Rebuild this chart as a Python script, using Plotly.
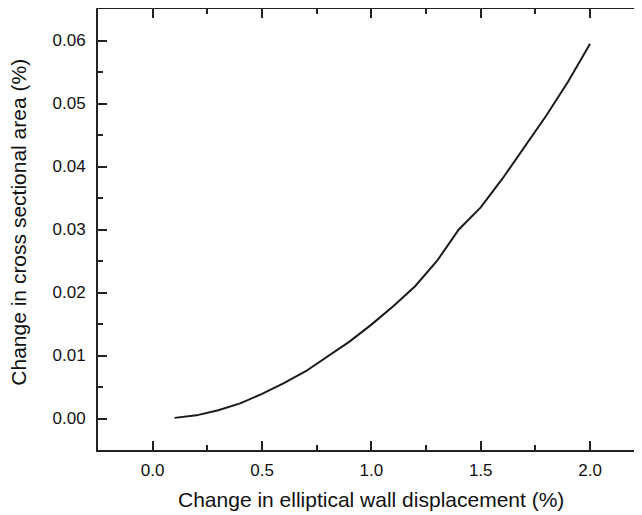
import plotly.graph_objects as go

# Data
displacement = [0.1, 0.2, 0.3, 0.4, 0.5, 0.6, 0.7, 0.8, 0.9, 1.0,
                1.1, 1.2, 1.3, 1.4, 1.5, 1.6, 1.7, 1.8, 1.9, 2.0]
area_change = [0.0001, 0.0005, 0.0013, 0.0024, 0.0039, 0.0056, 0.0075, 0.0098, 0.0122, 0.0149,
               0.0178, 0.0210, 0.0250, 0.0300, 0.0335, 0.0381, 0.0430, 0.0481, 0.0535, 0.0595]

x_title = "Change in elliptical wall displacement (%)"
y_title = "Change in cross sectional area (%)"

FONT = "Arial, 'Liberation Sans', sans-serif"
AX = "#222222"

# The page body has an 8px default margin, so the figure is sized/margined to
# compensate (plot area ends up at page x 98..642, y 9..450).
fig = go.Figure()
fig.add_trace(go.Scatter(x=displacement, y=area_change, mode="lines",
                         line=dict(color="#1a1a1a", width=2), showlegend=False,
                         hoverinfo="x+y"))
# helper trace on the right-hand axis (invisible) so mirrored ticks render
fig.add_trace(go.Scatter(x=displacement, y=area_change, mode="lines", yaxis="y2",
                         line=dict(color="rgba(0,0,0,0)", width=0), showlegend=False,
                         hoverinfo="skip"))

fig.update_layout(
    template="none",
    width=634, height=507,
    margin=dict(l=90, r=0, t=1, b=65, pad=0),
    paper_bgcolor="white", plot_bgcolor="white",
    font=dict(family=FONT, size=17, color="#111111"),
    xaxis=dict(
        automargin=False,
        range=[-0.25, 2.2375], tick0=0, dtick=0.5, tickformat=".1f",
        ticks="inside", ticklen=9, tickwidth=1.5, tickcolor=AX,
        showline=True, linewidth=2, linecolor=AX, mirror="ticks",
        showgrid=False, zeroline=False, ticklabelstandoff=4,
        minor=dict(ticks="inside", ticklen=5, tickwidth=1.5, tickcolor=AX, dtick=0.25, tick0=0, showgrid=False),
        tickfont=dict(size=17),
    ),
    yaxis=dict(
        automargin=False,
        range=[-0.005, 0.065], tick0=0, dtick=0.01, tickformat=".2f",
        ticks="inside", ticklen=9, tickwidth=1.5, tickcolor=AX,
        showline=True, linewidth=2, linecolor=AX, mirror=False,
        showgrid=False, zeroline=False, ticklabelstandoff=7,
        minor=dict(ticks="inside", ticklen=5, tickwidth=1.5, tickcolor=AX, dtick=0.005, tick0=0, showgrid=False),
        tickfont=dict(size=17),
    ),
    yaxis2=dict(
        automargin=False,
        overlaying="y", side="right", matches="y",
        range=[-0.005, 0.065], tick0=0, dtick=0.01,
        ticks="inside", ticklen=6, tickwidth=1.5, tickcolor=AX,
        showline=False, showticklabels=False, showgrid=False, zeroline=False,
        minor=dict(ticks="inside", ticklen=3, tickwidth=1.5, tickcolor=AX, dtick=0.005, tick0=0, showgrid=False),
    ),
    annotations=[
        dict(
            text=y_title, textangle=-90, showarrow=False,
            xref="paper", yref="paper",
            x=(19 - 98) / 544, y=(450 - 222.7) / 441,
            xanchor="center", yanchor="middle",
            font=dict(size=21, family=FONT, color="#111111"),
        ),
        dict(
            text=x_title, showarrow=False,
            xref="paper", yref="paper",
            x=(371 - 98) / 544, y=(450 - 499) / 441,
            xanchor="center", yanchor="middle",
            font=dict(size=21, family=FONT, color="#111111"),
        ),
    ],
)

fig.write_html("out.html")
